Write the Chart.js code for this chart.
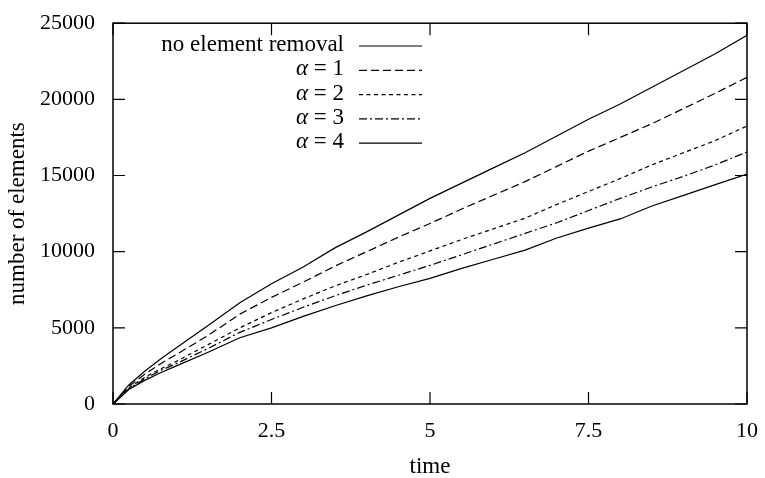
<!DOCTYPE html>
<html>
<head>
<meta charset="utf-8">
<script src="https://cdn.jsdelivr.net/npm/chart.js@4.4.1/dist/chart.umd.min.js"></script>
<style>
  html, body { margin: 0; padding: 0; background: #fff; }
  #wrap { width: 765px; height: 478px; }
</style>
</head>
<body>
<div id="wrap"><canvas id="chart" width="765" height="478"></canvas></div>
<script>
// time axis samples
const times = [0, 0.25, 0.5, 0.75, 1, 1.5, 2, 2.5, 3, 3.5, 4, 4.5, 5, 5.5, 6, 6.5, 7, 7.5, 8, 8.5, 9, 9.5, 10];

// number of elements
const noRemoval = [0, 1250, 2150, 2950, 3700, 5150, 6650, 7900, 9000, 10250, 11300, 12400, 13500, 14500, 15500, 16500, 17600, 18700, 19700, 20800, 21900, 23000, 24200];
const alpha1 = [0, 1150, 1950, 2650, 3250, 4500, 5900, 7000, 8000, 9050, 10000, 10950, 11850, 12800, 13700, 14600, 15600, 16600, 17500, 18400, 19400, 20400, 21450];
const alpha2 = [0, 1050, 1750, 2300, 2800, 3900, 5000, 6000, 6900, 7750, 8500, 9300, 10050, 10800, 11500, 12200, 13100, 13950, 14800, 15700, 16500, 17300, 18250];
const alpha3 = [0, 1000, 1650, 2200, 2650, 3650, 4700, 5550, 6350, 7100, 7800, 8450, 9100, 9800, 10500, 11200, 11900, 12700, 13500, 14250, 14950, 15700, 16550];
const alpha4 = [0, 950, 1550, 2050, 2500, 3400, 4350, 5000, 5750, 6450, 7100, 7700, 8250, 8900, 9500, 10100, 10900, 11550, 12150, 13000, 13700, 14400, 15100];

const seriesNames = ["no element removal", "α = 1", "α = 2", "α = 3", "α = 4"];
const xTicks = [0, 2.5, 5, 7.5, 10];
const yTicks = [0, 5000, 10000, 15000, 20000, 25000];

const FONT = "'Liberation Serif', 'DejaVu Serif', serif";
const dashes = [[], [8, 4], [4, 3.5], [8, 3, 2, 3], []];

const pts = (arr) => arr.map((v, i) => ({ x: times[i], y: v }));

const datasets = [noRemoval, alpha1, alpha2, alpha3, alpha4].map((arr, i) => ({
    label: seriesNames[i],
    data: pts(arr),
    borderColor: "#000",
    borderWidth: 1.2,
    borderDash: dashes[i],
    pointRadius: 0,
    tension: 0,
    fill: false,
}));

// frame, inward ticks on all four sides, and the legend in gnuplot style
const framePlugin = {
    id: "frame",
    afterDraw(chart) {
        const { ctx, chartArea: a, scales } = chart;
        ctx.save();
        ctx.strokeStyle = "#000";
        ctx.lineWidth = 1.5;
        ctx.setLineDash([]);
        ctx.strokeRect(a.left, a.top, a.right - a.left, a.bottom - a.top);
        ctx.lineWidth = 1.2;
        const len = 12;
        ctx.beginPath();
        xTicks.forEach((t) => {
            const px = scales.x.getPixelForValue(t);
            ctx.moveTo(px, a.bottom); ctx.lineTo(px, a.bottom - len);
            ctx.moveTo(px, a.top); ctx.lineTo(px, a.top + len);
        });
        yTicks.forEach((t) => {
            const py = scales.y.getPixelForValue(t);
            ctx.moveTo(a.left, py); ctx.lineTo(a.left + len, py);
            ctx.moveTo(a.right, py); ctx.lineTo(a.right - len, py);
        });
        ctx.stroke();

        // legend
        ctx.fillStyle = "#000";
        ctx.textBaseline = "middle";
        ctx.textAlign = "right";
        chart.data.datasets.forEach((ds, i) => {
            const y = 45 + i * 24.3;
            const txtRight = 344;
            if (ds.label.startsWith("α")) {
                const rest = ds.label.slice(1);
                ctx.font = "23px " + FONT;
                const w = ctx.measureText(rest).width;
                ctx.fillText(rest, txtRight, y);
                ctx.font = "italic 23px " + FONT;
                ctx.fillText("α", txtRight - w, y);
            } else {
                ctx.font = "23px " + FONT;
                ctx.fillText(ds.label, txtRight, y);
            }
            ctx.beginPath();
            ctx.lineWidth = 1.2;
            ctx.setLineDash(ds.borderDash);
            ctx.moveTo(359, y + 1);
            ctx.lineTo(422, y + 1);
            ctx.stroke();
        });
        ctx.restore();
    },
};

new Chart(document.getElementById("chart"), {
    type: "line",
    data: { datasets },
    options: {
        responsive: false,
        animation: false,
        layout: { padding: { left: 0, right: 18, top: 19, bottom: 0 } },
        plugins: { legend: { display: false }, tooltip: { enabled: false } },
        scales: {
            x: {
                type: "linear",
                min: 0,
                max: 10,
                afterBuildTicks: (s) => { s.ticks = xTicks.map((v) => ({ value: v })); },
                afterFit: (s) => { s.height = 74; },
                grid: { display: false },
                border: { display: false },
                ticks: {
                    color: "#000",
                    font: { family: FONT, size: 22 },
                    padding: 6,
                    maxRotation: 0,
                    callback: (v) => String(v),
                },
                title: {
                    display: true,
                    text: "time",
                    color: "#000",
                    font: { family: FONT, size: 23, lineHeight: 1.0 },
                    padding: { top: 0, bottom: 0 },
                },
            },
            y: {
                min: 0,
                max: 25000,
                afterBuildTicks: (s) => { s.ticks = yTicks.map((v) => ({ value: v })); },
                afterFit: (s) => { s.width = 113; },
                grid: { display: false },
                border: { display: false },
                ticks: {
                    color: "#000",
                    font: { family: FONT, size: 22 },
                    padding: 10,
                    callback: (v) => String(v),
                },
                title: {
                    display: true,
                    text: "number of elements",
                    color: "#000",
                    font: { family: FONT, size: 23 },
                    padding: { top: 4, bottom: 0 },
                },
            },
        },
    },
    plugins: [framePlugin],
});
</script>
</body>
</html>
